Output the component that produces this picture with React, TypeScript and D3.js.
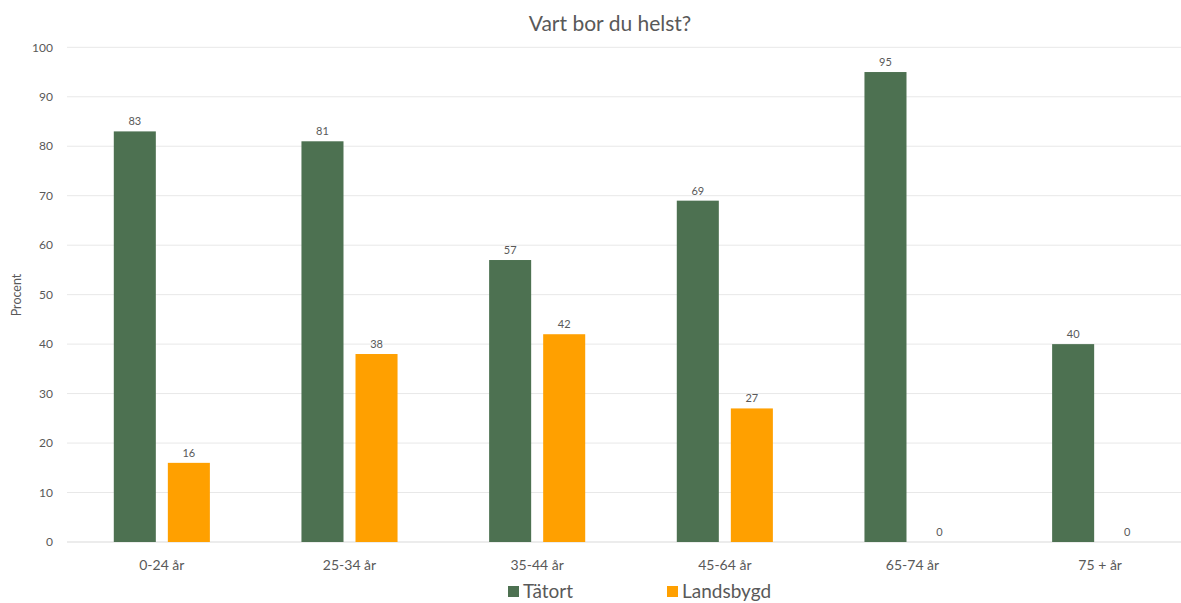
import React from "react";
import * as d3 from "d3";

const categories = ["0-24 år", "25-34 år", "35-44 år", "45-64 år", "65-74 år", "75 + år"];
const tatort = [83, 81, 57, 69, 95, 40];
const landsbygd = [16, 38, 42, 27, 0, 0];
const yTicks = [0, 10, 20, 30, 40, 50, 60, 70, 80, 90, 100];
const seriesNames = ["Tätort", "Landsbygd"];
const seriesColors = ["#4d7151", "#ffa000"];

const W = 1181;
const H = 603;
const FONT = "Lato, 'Open Sans', sans-serif";
const TEXT = "#595959";

export default function App() {
  const x = d3.scaleBand<string>().domain(categories).range([68, 1194]).padding(0);
  const y = d3.scaleLinear().domain([0, 100]).range([542, 47.3]);
  const bw = x.bandwidth();
  const barW = bw * 0.224;
  const gap = bw * 0.064;
  const series = [tatort, landsbygd];

  return (
    <svg
      width={W}
      height={H}
      style={{ position: "absolute", left: 0, top: 0, background: "#fff" }}
      fontFamily={FONT}
    >
      <rect width={W} height={H} fill="#fff" />
      <text x={610} y={31} textAnchor="middle" fontSize={21} fill={TEXT}>
        Vart bor du helst?
      </text>

      {yTicks.map((t) => (
        <g key={t}>
          <line x1={67} x2={W} y1={y(t)} y2={y(t)} stroke={t === 0 ? "#d9d9d9" : "#e8e8e8"} strokeWidth={1} />
          <text x={53} y={y(t)} dy="0.35em" textAnchor="end" fontSize={12} fill={TEXT}>
            {t}
          </text>
        </g>
      ))}

      <text
        transform={`translate(21,295) rotate(-90)`}
        textAnchor="middle"
        fontSize={12.5}
        fill={TEXT}
      >
        Procent
      </text>

      {categories.map((c, i) => {
        const cx = (x(c) as number) + bw / 2;
        return (
          <g key={c}>
            {series.map((vals, s) => {
              const bx = s === 0 ? cx - gap / 2 - barW : cx + gap / 2;
              const v = vals[i];
              return (
                <g key={s}>
                  {v > 0 && (
                    <rect x={bx} y={y(v)} width={barW} height={y(0) - y(v)} fill={seriesColors[s]} />
                  )}
                  <text x={bx + barW / 2} y={y(v) - 6} textAnchor="middle" fontSize={11} fill={TEXT}>
                    {v}
                  </text>
                </g>
              );
            })}
            <text x={cx} y={570} textAnchor="middle" fontSize={14} fill={TEXT}>
              {c}
            </text>
          </g>
        );
      })}

      {seriesNames.map((n, i) => {
        const lx = i === 0 ? 508 : 667;
        return (
          <g key={n}>
            <rect x={lx} y={586} width={11} height={11} fill={seriesColors[i]} />
            <text x={lx + 15} y={598} fontSize={19} fill={TEXT}>
              {n}
            </text>
          </g>
        );
      })}
    </svg>
  );
}
